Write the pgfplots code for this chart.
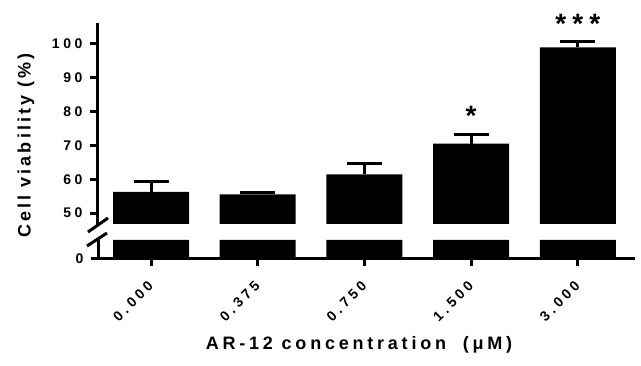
\documentclass[border=0pt]{standalone}
\usepackage{fontspec}
\setmainfont{Liberation Sans}
\newfontfamily\lsfont{Liberation Sans}[LetterSpace=26, BoldFont={Liberation Sans Bold}]
\newfontfamily\lbfont{Liberation Sans}[LetterSpace=17, BoldFont={Liberation Sans Bold}]
\newfontfamily\lxfont{Liberation Sans}[LetterSpace=21, BoldFont={Liberation Sans Bold}]
\newfontfamily\stfont{Liberation Sans}[LetterSpace=22, BoldFont={Liberation Sans Bold}]
\newcommand\tl{\lsfont\bfseries\fontsize{14}{16}\selectfont}
\usepackage{pgfplots}
\pgfplotsset{compat=1.18}
\pgfplotstableread{
x y e
0 56.25 2.95
1 55.5 0.5
2 61.4 3.2
3 70.5 2.8
4 98.9 1.6
}\datatab
\pgfplotstableread{
x y
0 1
1 1
2 1
3 1
4 1
}\lowtab
\begin{document}
\begin{tikzpicture}[x=1pt,y=1pt]
\path[use as bounding box] (0,0) rectangle (641,366);
\pgfplotsset{
  common/.style={
    scale only axis, width=535pt,
    xmin=-0.497, xmax=4.517,
    axis line style={line width=3pt, line cap=rect},
    tick style={line width=3pt, black},
    major tick length=8pt,
    tick align=outside,
    /pgf/number format/assume math mode=true,
    tick label style={font=\tl},
    ybar, bar width=76pt,
  }
}
% upper axis
\begin{axis}[common,
  at={(98pt,142pt)}, anchor=south west,
  height=199pt,
  ymin=46.8, ymax=105.5,
  axis x line=none, axis y line*=left,
  ytick={50,60,70,80,90,100},
  yticklabel style={xshift=-4pt},
  clip mode=individual,
]
\addplot[fill=black, draw=none,
  error bars/.cd, y dir=plus, y explicit,
  error bar style={line width=3pt, black},
  error mark options={rotate=90, line width=3pt, mark size=17.5pt, black}]
  table[x=x, y=y, y error=e] {\datatab};
\node[font=\stfont\bfseries\fontsize{28}{30}\selectfont] at (axis cs:3,78.7) {*};
\node[font=\stfont\bfseries\fontsize{28}{30}\selectfont] at (axis cs:4,105.8) {***};
\end{axis}
% lower axis
\begin{axis}[common,
  at={(98pt,107pt)}, anchor=south west,
  height=19pt,
  ymin=0, ymax=1,
  axis x line*=bottom, axis y line*=left,
  ytick={0}, xtick={0,1,2,3,4},
  major tick length=7pt,
  yticklabel style={xshift=-4pt},
  xticklabels={0.000,0.375,0.750,1.500,3.000},
  xticklabel style={inner sep=0pt, xshift=-4pt, yshift=-14pt, rotate=45, anchor=north east},
]
\addplot[fill=black, draw=none] table[x=x, y=y] {\lowtab};
\end{axis}
% axis break marks
\draw[line width=3pt] (88,134) -- (108,148);
\draw[line width=3pt] (87,120) -- (107,133);
\node[font=\lbfont\bfseries\fontsize{18}{20}\selectfont, rotate=90] at (26,220.5) {Cell viability (\%)};
\node[font=\lxfont\bfseries\fontsize{18}{20}\selectfont] at (359,21) {AR-12 concentration\hspace{8pt} (μM)};
\end{tikzpicture}
\end{document}
